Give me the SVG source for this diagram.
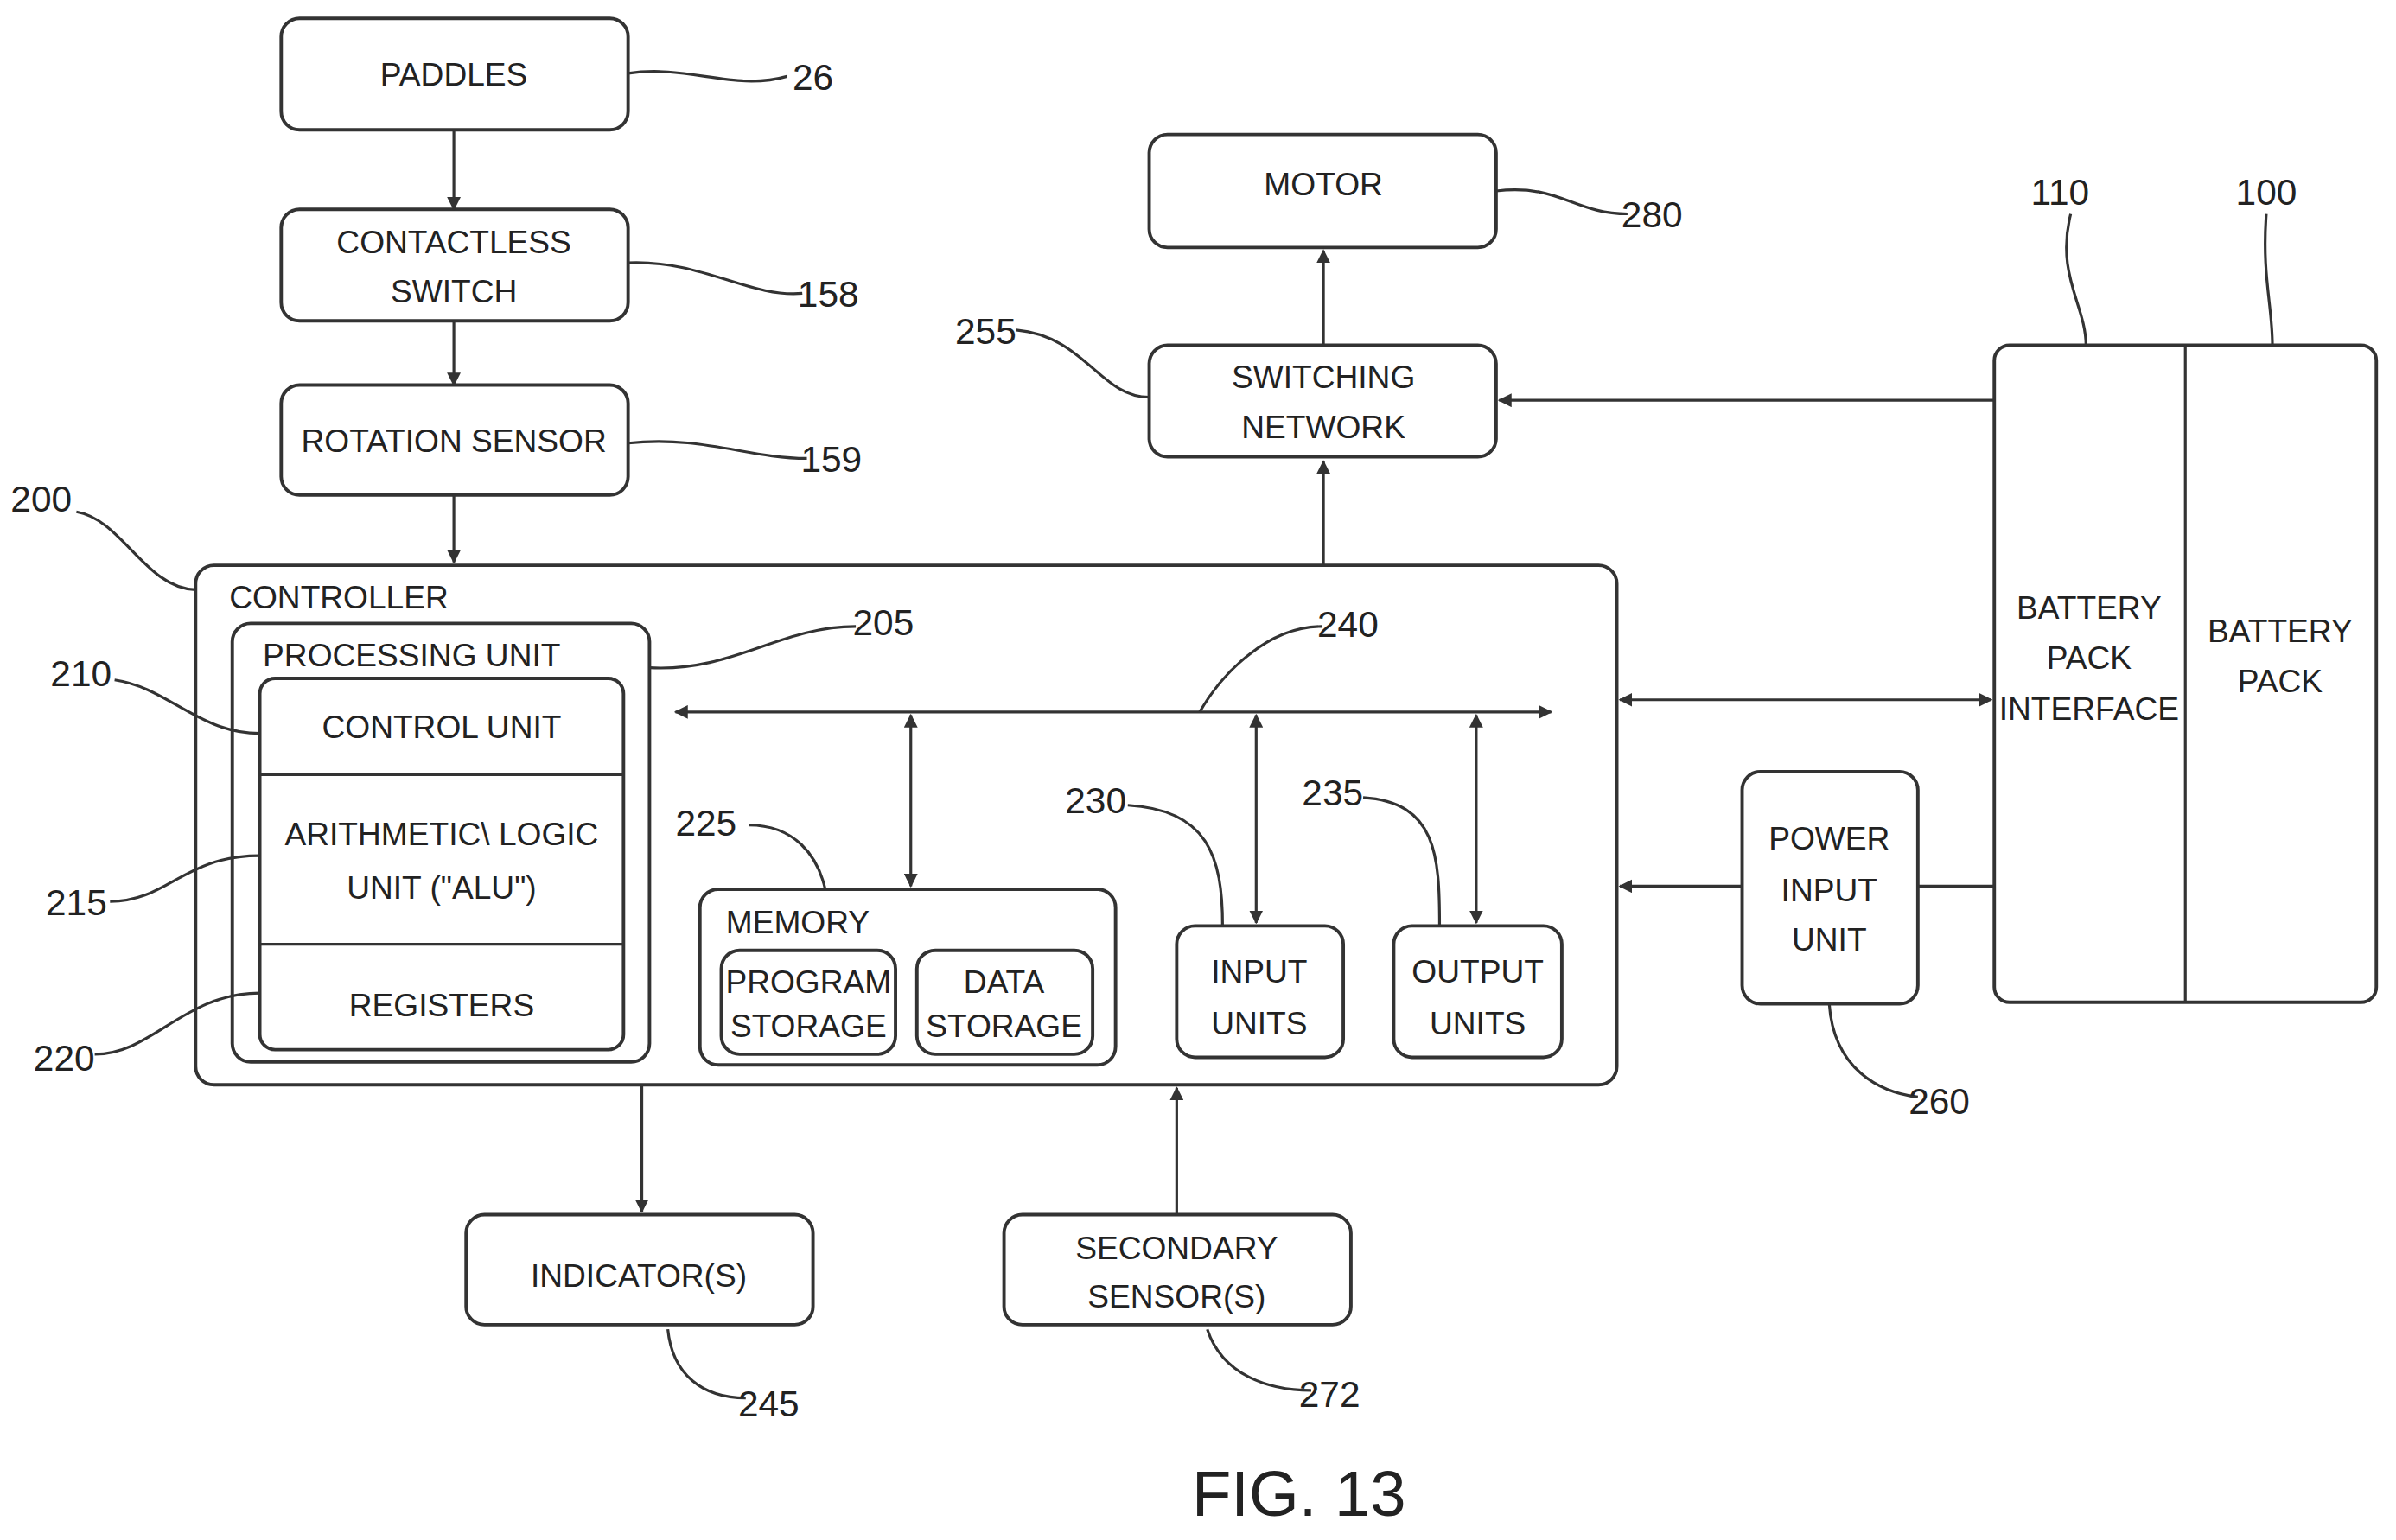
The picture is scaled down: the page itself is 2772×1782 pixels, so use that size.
<svg xmlns="http://www.w3.org/2000/svg" width="2772" height="1782" viewBox="0 0 2772 1782">
<defs>
<marker id="ah" viewBox="0 0 10 10" refX="9" refY="5" markerWidth="5" markerHeight="5" orient="auto-start-reverse"><path d="M0,0 L10,5 L0,10 z" fill="#333"/></marker>
<style>
.b{fill:#fff;stroke:#333;stroke-width:2.2}
.l{fill:none;stroke:#333;stroke-width:1.8}
.a{fill:none;stroke:#333;stroke-width:1.8;marker-end:url(#ah)}
.d{fill:none;stroke:#333;stroke-width:1.8;marker-end:url(#ah);marker-start:url(#ah)}
text{font-family:"Liberation Sans",Arial,sans-serif;font-size:21px;fill:#222;text-anchor:middle}
.s{text-anchor:start}
.n{font-size:24px}
</style>
</defs>
<rect width="2772" height="1782" fill="#fff"/>
<g transform="scale(1.768)">
<g id="paddles"><rect class="b" x="184" y="12" width="227" height="73" rx="12"/><text x="297" y="56">PADDLES</text></g>
<g id="switch"><rect class="b" x="184" y="137" width="227" height="73" rx="12"/><text x="297" y="166">CONTACTLESS</text><text x="297" y="198">SWITCH</text></g>
<g id="rotation"><rect class="b" x="184" y="252" width="227" height="72" rx="12"/><text x="297" y="296">ROTATION SENSOR</text></g>
<g id="controller"><rect class="b" x="128" y="370" width="930" height="340" rx="12"/><text class="s" x="150" y="398">CONTROLLER</text></g>
<g id="processing"><rect class="b" x="152" y="408" width="273" height="287" rx="12"/><text class="s" x="172" y="436">PROCESSING UNIT</text>
<rect class="b" x="170" y="444" width="238" height="243" rx="10"/><path class="l" d="M170,507H408M170,618H408"/>
<text x="289" y="483">CONTROL UNIT</text><text x="289" y="553">ARITHMETIC\ LOGIC</text><text x="289" y="588">UNIT ("ALU")</text><text x="289" y="665">REGISTERS</text></g>
<g id="memory"><rect class="b" x="458" y="582" width="272" height="115" rx="12"/><text class="s" x="475" y="611">MEMORY</text>
<rect class="b" x="472" y="622" width="114" height="68" rx="12"/><text x="529" y="650">PROGRAM</text><text x="529" y="679">STORAGE</text>
<rect class="b" x="600" y="622" width="115" height="68" rx="12"/><text x="657" y="650">DATA</text><text x="657" y="679">STORAGE</text></g>
<g id="input"><rect class="b" x="770" y="606" width="109" height="86" rx="12"/><text x="824" y="643">INPUT</text><text x="824" y="677">UNITS</text></g>
<g id="output"><rect class="b" x="912" y="606" width="110" height="86" rx="12"/><text x="967" y="643">OUTPUT</text><text x="967" y="677">UNITS</text></g>
<g id="switching"><rect class="b" x="752" y="226" width="227" height="73" rx="12"/><text x="866" y="254">SWITCHING</text><text x="866" y="287">NETWORK</text></g>
<g id="motor"><rect class="b" x="752" y="88" width="227" height="74" rx="12"/><text x="866" y="128">MOTOR</text></g>
<g id="battery"><rect class="b" x="1305" y="226" width="250" height="430" rx="10"/><path class="l" d="M1430,226V656"/>
<text x="1367" y="405">BATTERY</text><text x="1367" y="438">PACK</text><text x="1367" y="471">INTERFACE</text>
<text x="1492" y="420">BATTERY</text><text x="1492" y="453">PACK</text></g>
<g id="power"><rect class="b" x="1140" y="505" width="115" height="152" rx="12"/><text x="1197" y="556">POWER</text><text x="1197" y="590">INPUT</text><text x="1197" y="622">UNIT</text></g>
<g id="indicators"><rect class="b" x="305" y="795" width="227" height="72" rx="12"/><text x="418" y="842">INDICATOR(S)</text></g>
<g id="secondary"><rect class="b" x="657" y="795" width="227" height="72" rx="12"/><text x="770" y="824">SECONDARY</text><text x="770" y="856">SENSOR(S)</text></g>
<g id="connectors">
<path class="a" d="M297,85V137"/><path class="a" d="M297,210V252"/><path class="a" d="M297,324V368"/>
<path class="a" d="M866,370V302"/><path class="a" d="M866,226V164"/>
<path class="a" d="M1305,262H981"/><path class="d" d="M1060,458H1303"/>
<path class="l" d="M1305,580H1255"/><path class="a" d="M1140,580H1060"/>
<path class="a" d="M420,710V793"/><path class="a" d="M770,795V712"/>
<path class="d" d="M442,466H1015"/>
<path class="d" d="M596,468V580"/><path class="d" d="M822,468V604"/><path class="d" d="M966,468V604"/>
<path class="l" d="M411,48C450,42 480,60 515,50"/>
<path class="l" d="M411,172C460,170 490,195 525,192"/>
<path class="l" d="M411,290C460,285 490,300 528,300"/>
<path class="l" d="M50,335C80,340 95,385 128,386"/>
<path class="l" d="M425,437C480,440 510,410 560,410"/>
<path class="l" d="M785,466C800,440 830,410 865,410"/>
<path class="l" d="M75,445C110,450 130,480 170,480"/>
<path class="l" d="M72,590C110,590 120,560 170,560"/>
<path class="l" d="M62,690C100,690 120,650 170,650"/>
<path class="l" d="M490,540C520,540 535,560 540,582"/>
<path class="l" d="M738,527C790,530 800,560 800,606"/>
<path class="l" d="M892,522C940,525 942,560 942,606"/>
<path class="l" d="M665,216C710,220 720,260 752,260"/>
<path class="l" d="M979,125C1020,120 1030,140 1065,140"/>
<path class="l" d="M1355,140C1345,180 1365,200 1365,226"/>
<path class="l" d="M1483,140C1480,180 1487,200 1487,226"/>
<path class="l" d="M1197,657C1200,700 1230,715 1255,718"/>
<path class="l" d="M437,870C440,900 460,915 488,915"/>
<path class="l" d="M790,870C800,900 830,910 858,910"/>
</g>
<g id="labels">
<text class="n" x="532" y="59">26</text><text class="n" x="542" y="201">158</text><text class="n" x="544" y="309">159</text>
<text class="n" x="27" y="335">200</text><text class="n" x="578" y="416">205</text><text class="n" x="882" y="417">240</text>
<text class="n" x="53" y="449">210</text><text class="n" x="50" y="599">215</text><text class="n" x="42" y="701">220</text>
<text class="n" x="462" y="547">225</text><text class="n" x="717" y="532">230</text><text class="n" x="872" y="527">235</text>
<text class="n" x="645" y="225">255</text><text class="n" x="1081" y="149">280</text>
<text class="n" x="1348" y="134">110</text><text class="n" x="1483" y="134">100</text>
<text class="n" x="1269" y="729">260</text><text class="n" x="503" y="927">245</text><text class="n" x="870" y="921">272</text>
<text x="850" y="992" style="font-size:42px">FIG. 13</text>
</g>
</g>
</svg>
